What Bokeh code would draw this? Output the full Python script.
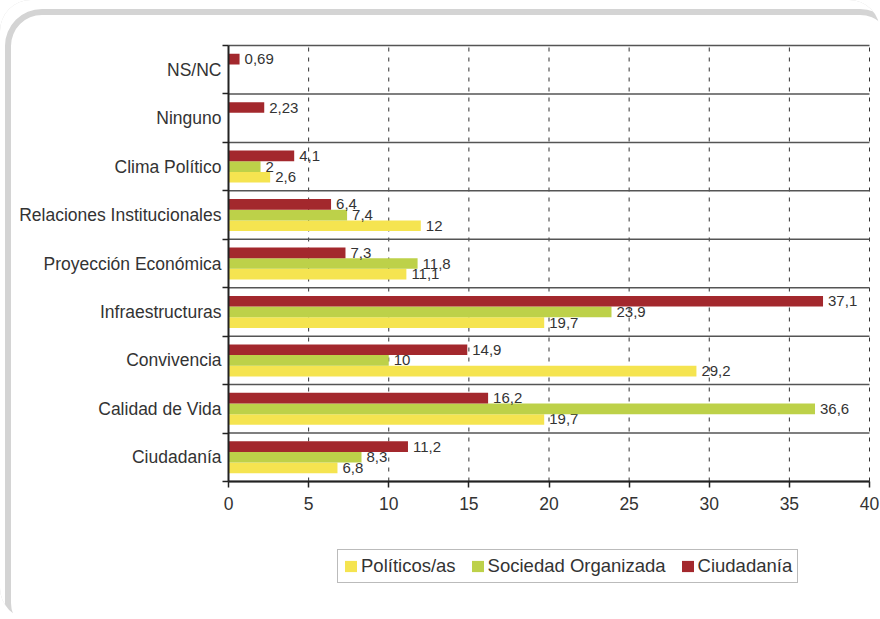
from bokeh.plotting import figure
from bokeh.models import (ColumnDataSource, FixedTicker, Legend, LegendItem, Range1d)
from bokeh.transform import dodge
from bokeh.embed import file_html
from bokeh.resources import INLINE
from bokeh.core.properties import value

# ---- data (bottom to top) ----
categories = ["Ciudadanía", "Calidad de Vida", "Convivencia", "Infraestructuras",
              "Proyección Económica", "Relaciones Institucionales", "Clima Político",
              "Ninguno", "NS/NC"]
politicos = [6.8, 19.7, 29.2, 19.7, 11.1, 12, 2.6, None, None]
sociedad = [8.3, 36.6, 10, 23.9, 11.8, 7.4, 2, None, None]
ciudadania = [11.2, 16.2, 14.9, 37.1, 7.3, 6.4, 4.1, 2.23, 0.69]
series_names = ["Políticos/as", "Sociedad Organizada", "Ciudadanía"]
x_ticks = [0, 5, 10, 15, 20, 25, 30, 35, 40]

# ---- styling / layout ----
colors = ["#F5E450", "#BDD149", "#A3282D"]
offsets = [-0.22, 0.0, 0.22]
FONT = "Liberation Sans"
TXT = "#333333"
W, H = 880, 619
PX_LEFT, PX_RIGHT, PX_TOP, PX_BOTTOM = 228, 869, 45, 481   # plot area in pixels
X0, X1 = x_ticks[0], x_ticks[-1]
Y0, Y1 = -0.5, len(categories) - 0.5

sx = (PX_RIGHT - PX_LEFT) / (X1 - X0)
sy = (PX_BOTTOM - PX_TOP) / (Y1 - Y0)
x_range = Range1d(X0 - PX_LEFT / sx, X1 + (W - PX_RIGHT) / sx)
y_range = Range1d(Y0 - (H - PX_BOTTOM) / sy, Y1 + PX_TOP / sy)

p = figure(width=W, height=H, output_backend="svg", toolbar_location=None,
           x_range=x_range, y_range=y_range, min_border=0)
p.outline_line_color = None
p.background_fill_alpha = 0
p.border_fill_alpha = 0
p.xgrid.grid_line_color = None
p.ygrid.grid_line_color = None

# rounded grey outer frame (painted on the host, behind the transparent canvas)
p.styles = {
    "background-color": "white",
    "border-radius": "31px",
    "box-shadow": "inset 11px 15px 0 -6px white, inset 11px 15px 0 0 #D4D4D4",
}

# grid lines limited to the plot area
boundaries = [i - 0.5 for i in range(len(categories) + 1)]
p.segment(x0=x_ticks[1:], x1=x_ticks[1:], y0=[Y0] * (len(x_ticks) - 1),
          y1=[Y1] * (len(x_ticks) - 1), line_color="#333333", line_width=1,
          line_dash="4 6")
p.segment(x0=[X0] * len(boundaries), x1=[X1] * len(boundaries), y0=boundaries,
          y1=boundaries, line_color="#555555", line_width=1.5)

items = []
for name, vals, col, off in zip(series_names, [politicos, sociedad, ciudadania], colors, offsets):
    ys, vs, labs = [], [], []
    for i, v in enumerate(vals):
        if v is None:
            continue
        ys.append(i)
        vs.append(v)
        labs.append(f"{v:g}".replace(".", ","))
    src = ColumnDataSource(dict(y=ys, v=vs, label=labs))
    r = p.hbar(y=dodge("y", off), left=0, right="v", height=0.22, source=src,
               fill_color=col, line_color=None)
    p.text(x="v", y=dodge("y", off), text="label", source=src, x_offset=5,
           text_baseline="middle", text_align="left", text_font=value(FONT),
           text_font_size="15px", text_color=TXT)
    items.append(LegendItem(label=name, renderers=[r]))

# axes (fixed inside the canvas)
p.xaxis.fixed_location = Y0
p.xaxis.bounds = (X0, X1)
p.xaxis.ticker = FixedTicker(ticks=x_ticks)
p.xaxis.major_tick_out = 6
p.xaxis.major_tick_in = 0
p.xaxis.minor_tick_line_color = None
p.xaxis.axis_line_width = 2
p.xaxis.axis_line_color = "#222222"
p.xaxis.major_tick_line_color = "#222222"
p.xaxis.major_tick_line_width = 1.5
p.xaxis.major_label_text_font = FONT
p.xaxis.major_label_text_font_size = "17.5px"
p.xaxis.major_label_text_color = TXT
p.xaxis.major_label_standoff = 9

p.yaxis.fixed_location = X0
p.yaxis.bounds = (Y0, Y1)
p.yaxis.ticker = FixedTicker(ticks=list(range(len(categories))), minor_ticks=boundaries)
p.yaxis.major_label_overrides = {i: c for i, c in enumerate(categories)}
p.yaxis.major_tick_out = 0
p.yaxis.major_tick_in = 0
p.yaxis.minor_tick_out = 6
p.yaxis.minor_tick_in = 0
p.yaxis.minor_tick_line_color = "#222222"
p.yaxis.minor_tick_line_width = 1.5
p.yaxis.axis_line_width = 2
p.yaxis.axis_line_color = "#222222"
p.yaxis.major_label_text_font = FONT
p.yaxis.major_label_text_font_size = "17.5px"
p.yaxis.major_label_text_color = TXT
p.yaxis.major_label_standoff = 1

legend = Legend(items=items, orientation="horizontal", location=(337, 36),
                border_line_color="#777777", border_line_width=1,
                label_text_font=FONT, label_text_font_size="18.5px",
                label_text_color=TXT, glyph_width=15, glyph_height=14,
                label_standoff=3, spacing=14, padding=5, margin=0)
p.add_layout(legend)

open("out.html", "w").write(file_html(p, INLINE))
